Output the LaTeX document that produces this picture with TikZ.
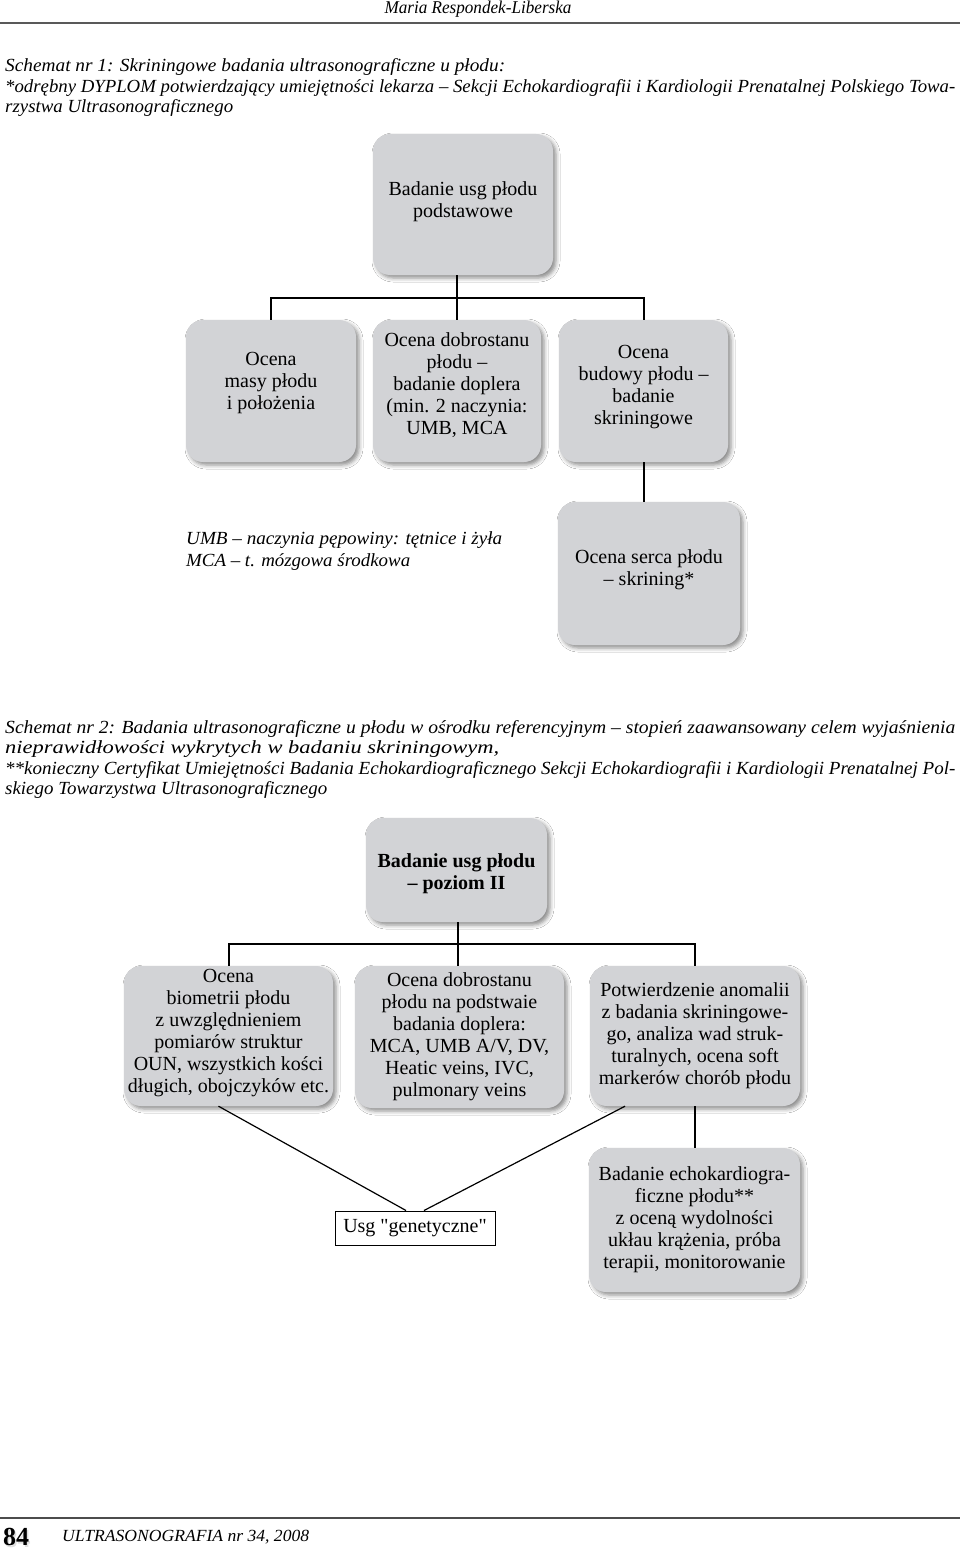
\documentclass[tikz,border=0pt]{standalone}
\usepackage{fontspec}
\setmainfont{Liberation Serif}
\newfontfamily\qfont{Liberation Serif}[Ligatures=TeXOff]
\usepackage{graphicx}
\usetikzlibrary{shadows.blur}
\definecolor{boxgray}{RGB}{210,211,214}
\newcommand\fitw[2]{\resizebox{#1pt}{\height}{#2}}
\newcommand\dpt[1]{\rule[-#1pt]{0pt}{#1pt}}
\begin{document}
\begin{tikzpicture}[x=1pt,y=-1pt,
 box/.style={rounded corners=17pt, fill=boxgray, align=center, inner sep=0pt,
   font=\fontsize{20}{22}\selectfont,
   blur shadow={shadow xshift=3pt, shadow yshift=-3pt, shadow blur radius=4pt, shadow opacity=45}},
 tree/.style={line width=2pt, black},
 diag/.style={line width=1.2pt, black},
 captxt/.style={anchor=west, inner sep=0pt, font=\fontsize{18.5}{20}\selectfont\itshape},
]
\useasboundingbox (0,0) rectangle (960,1554);
\fill[white] (0,0) rectangle (960,1554);

% header
\node[inner sep=0pt, font=\fontsize{18}{20}\selectfont\itshape] (hdr) at (478,9) {\fitw{187}{Maria Respondek-Liberska}};
\draw[line width=2.5pt, gray!70!black] (0,23) -- (960,23);

% caption 1
\node[captxt] (c1a) at (5,67) {\fitw{500}{Schemat nr 1: Skriningowe badania ultrasonograficzne u płodu:}};
\node[captxt] (c1b) at (5,88) {\fitw{950}{*odrębny DYPLOM potwierdzający umiejętności lekarza – Sekcji Echokardiografii i Kardiologii Prenatalnej Polskiego Towa-}};
\node[captxt] (c1c) at (5,108) {\fitw{228}{rzystwa Ultrasonograficznego}};

% schema 1
\node[box, minimum width=180pt, minimum height=141pt] (t1) at (463,204.5) {Badanie usg płodu\\podstawowe\dpt{10}};
\node[box, minimum width=170pt, minimum height=142pt] (A) at (271,391) {Ocena\\masy płodu\\i położenia\dpt{20}};
\node[box, minimum width=168pt, minimum height=142pt] (B) at (457,391) {Ocena dobrostanu\\płodu –\\badanie doplera\\(min. 2 naczynia:\\UMB, MCA\dpt{15}};
\node[box, minimum width=169pt, minimum height=142pt] (C) at (643.5,391) {Ocena\\budowy płodu –\\badanie\\skriningowe\dpt{13}};
\node[box, minimum width=182pt, minimum height=143pt] (D) at (649,573.5) {Ocena serca płodu\\– skrining*\dpt{11}};

\coordinate (bar1) at (457,298);
\draw[tree] (t1.south -| bar1) -- (bar1);
\draw[tree] (A.north) -- (A.north |- bar1) -- (C.north |- bar1) -- (C.north);
\draw[tree] (bar1) -- (B.north -| bar1);
\draw[tree] (C.south) -- (C.south |- D.north);

% legend
\node[captxt] (l1) at (186,540) {\fitw{316}{UMB – naczynia pępowiny: tętnice i żyła}};
\node[captxt] (l2) at (186,562) {\fitw{224}{MCA – t. mózgowa środkowa}};

% caption 2
\node[captxt] (c2a) at (5,729) {\fitw{950}{Schemat nr 2: Badania ultrasonograficzne u płodu w ośrodku referencyjnym – stopień zaawansowany celem wyjaśnienia}};
\node[captxt] (c2b) at (5,749) {\fitw{494}{nieprawidłowości wykrytych w badaniu skriningowym,}};
\node[captxt] (c2c) at (5,770) {\fitw{950}{**konieczny Certyfikat Umiejętności Badania Echokardiograficznego Sekcji Echokardiografii i Kardiologii Prenatalnej Pol-}};
\node[captxt] (c2d) at (5,790) {\fitw{322}{skiego Towarzystwa Ultrasonograficznego}};

% schema 2
\node[box, minimum width=181pt, minimum height=104pt, font=\fontsize{20}{22}\selectfont\bfseries] (t2) at (456.5,870) {\rule{0pt}{21pt}Badanie usg płodu\\– poziom II};
\node[box, minimum width=209pt, minimum height=140pt] (E) at (228.5,1036) {Ocena\\biometrii płodu\\z uwzględnieniem\\pomiarów struktur\\OUN, wszystkich kości\\długich, obojczyków etc.\dpt{11}};
\node[box, minimum width=209pt, minimum height=142pt] (F) at (459.5,1037) {Ocena dobrostanu\\płodu na podstwaie\\badania doplera:\\MCA, UMB A/V, DV,\\Heatic veins, IVC,\\pulmonary veins};
\node[box, minimum width=210pt, minimum height=140pt] (G) at (695,1036) {Potwierdzenie anomalii\\z badania skriningowe-\\go, analiza wad struk-\\turalnych, ocena soft\\markerów chorób płodu};
\node[box, minimum width=211pt, minimum height=144pt] (H) at (694.5,1220) {Badanie echokardiogra-\\ficzne płodu**\\z oceną wydolności\\ukłau krążenia, próba\\terapii, monitorowanie};
\node[draw, line width=1pt, minimum width=160pt, minimum height=34pt, inner sep=0pt, font=\fontsize{20}{22}\selectfont\qfont] (U) at (415,1228) {Usg "genetyczne"};

\coordinate (bar2) at (458,944);
\draw[tree] (t2.south -| bar2) -- (bar2);
\draw[tree] (E.north) -- (E.north |- bar2) -- (G.north |- bar2) -- (G.north);
\draw[tree] (bar2) -- (F.north -| bar2);
\draw[tree] (G.south) -- (G.south |- H.north);
\draw[diag] ([xshift=-10pt]E.south) -- ([xshift=-9pt]U.north);
\draw[diag] ([xshift=-70pt]G.south) -- ([xshift=9pt]U.north);

% footer
\draw[line width=1.5pt, gray!60!black] (0,1518) -- (960,1518);
\node[anchor=west, inner sep=0pt, font=\fontsize{26}{28}\selectfont\bfseries, text=gray!25] (pgs) at (4.5,1538.5) {84};
\node[anchor=west, inner sep=0pt, font=\fontsize{26}{28}\selectfont\bfseries] (pg) at (3,1537) {84};
\node[anchor=west, inner sep=0pt, font=\fontsize{17}{20}\selectfont\itshape] (jr) at (62,1537) {\fitw{247}{ULTRASONOGRAFIA nr 34, 2008}};
\end{tikzpicture}
\end{document}
